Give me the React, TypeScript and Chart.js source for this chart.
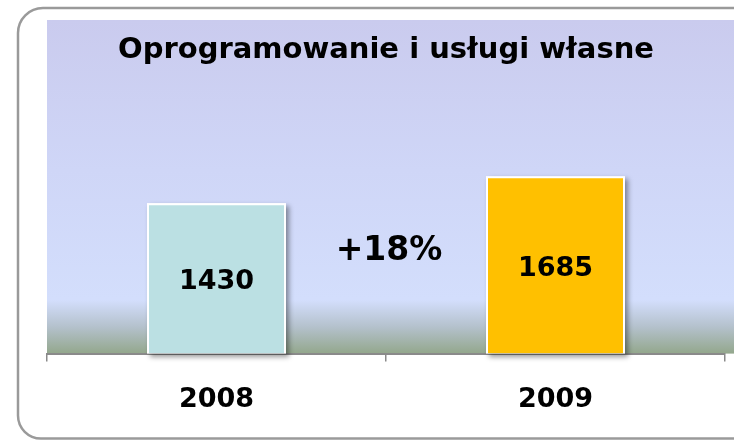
import React, { useEffect, useRef } from "react";
import { Chart, registerables } from "chart.js";

Chart.register(...registerables);

const titleText = "Oprogramowanie i usługi własne";
const categories = ["2008", "2009"];
const values = [1430, 1685];
const barColors = ["#BBE0E3", "#FFC000"];
const changeLabel = "+18%";
const changeLabelLevel = 970;
const yMax = 2650;

const FONT = "'DejaVu Sans', Verdana, sans-serif";

const decorPlugin = {
  id: "decor",
  beforeDraw(chart: any) {
    const { ctx, chartArea, width } = chart;
    const top = 20;
    const bottom = chartArea.bottom;
    ctx.save();
    const g = ctx.createLinearGradient(0, top, 0, bottom);
    g.addColorStop(0, "#CACBEE");
    g.addColorStop(0.45, "#CFD6F7");
    g.addColorStop(0.84, "#D3DEFC");
    g.addColorStop(0.92, "#B4C1CC");
    g.addColorStop(1, "#93A78C");
    ctx.fillStyle = g;
    ctx.fillRect(chartArea.left, top, width - chartArea.left, bottom - top);

    // outer rounded frame
    ctx.strokeStyle = "#9A9A9A";
    ctx.lineWidth = 2.5;
    const x = 18, y = 8, r = 25, rb = 23;
    const right = width + 40;
    const bot = 438.5;
    ctx.beginPath();
    ctx.moveTo(right, y);
    ctx.lineTo(x + r, y);
    ctx.arcTo(x, y, x, y + r, r);
    ctx.lineTo(x, bot - rb);
    ctx.arcTo(x, bot, x + rb, bot, rb);
    ctx.lineTo(right, bot);
    ctx.stroke();
    ctx.restore();
  },
  beforeDatasetsDraw(chart: any) {
    const { ctx } = chart;
    const meta = chart.getDatasetMeta(0);
    ctx.save();
    ctx.shadowColor = "rgba(0,0,0,0.4)";
    ctx.shadowBlur = 5;
    ctx.shadowOffsetX = 3;
    ctx.shadowOffsetY = 3;
    ctx.fillStyle = "#FFFFFF";
    meta.data.forEach((bar: any) => {
      const p = bar.getProps(["x", "y", "base", "width"], true);
      ctx.fillRect(p.x - p.width / 2, p.y, p.width, p.base - p.y);
    });
    ctx.restore();
  },
  afterDatasetsDraw(chart: any) {
    const { ctx, scales } = chart;
    const meta = chart.getDatasetMeta(0);
    ctx.save();
    ctx.fillStyle = "#000";
    ctx.textAlign = "center";
    ctx.textBaseline = "middle";
    ctx.font = `bold 27px ${FONT}`;
    meta.data.forEach((bar: any, i: number) => {
      const p = bar.getProps(["x", "y", "base"], true);
      ctx.fillText(String(values[i]), p.x, (p.y + p.base) / 2 + 4);
    });
    ctx.font = `bold 33px ${FONT}`;
    const cx = scales.x.getPixelForValue(0.5) + 3;
    const cy = scales.y.getPixelForValue(changeLabelLevel);
    ctx.fillText(changeLabel, cx, cy);
    ctx.restore();
  },
};

export default function App() {
  const ref = useRef<HTMLCanvasElement | null>(null);
  useEffect(() => {
    if (!ref.current) return;
    const chart = new Chart(ref.current, {
      type: "bar",
      data: {
        labels: categories,
        datasets: [
          {
            data: values,
            backgroundColor: barColors,
            borderColor: "#FFFFFF",
            borderWidth: 2,
            barPercentage: 0.41,
            categoryPercentage: 1,
          },
        ],
      },
      options: {
        responsive: false,
        animation: false,
        layout: { padding: { top: 20, left: 47, right: 9, bottom: 2 } },
        plugins: {
          legend: { display: false },
          tooltip: { enabled: false },
          title: {
            display: true,
            text: titleText,
            color: "#000",
            font: { family: FONT, size: 29, weight: "bold" },
            padding: { top: 13, bottom: 7 },
          },
        },
        scales: {
          y: { display: false, min: 0, max: yMax },
          x: {
            grid: {
              display: true,
              drawOnChartArea: false,
              drawTicks: true,
              tickLength: 8,
              color: "#8A8A8A",
              lineWidth: 1.5,
            },
            border: { display: true, color: "#8A8A8A", width: 2 },
            ticks: {
              color: "#000",
              font: { family: FONT, size: 27, weight: "bold" },
              padding: 22,
            },
          },
        },
      },
      plugins: [decorPlugin],
    });
    return () => chart.destroy();
  }, []);
  return (
    <div style={{ position: "absolute", left: 0, top: 0, width: 734, height: 440 }}>
      <canvas ref={ref} width={734} height={440} />
    </div>
  );
}
